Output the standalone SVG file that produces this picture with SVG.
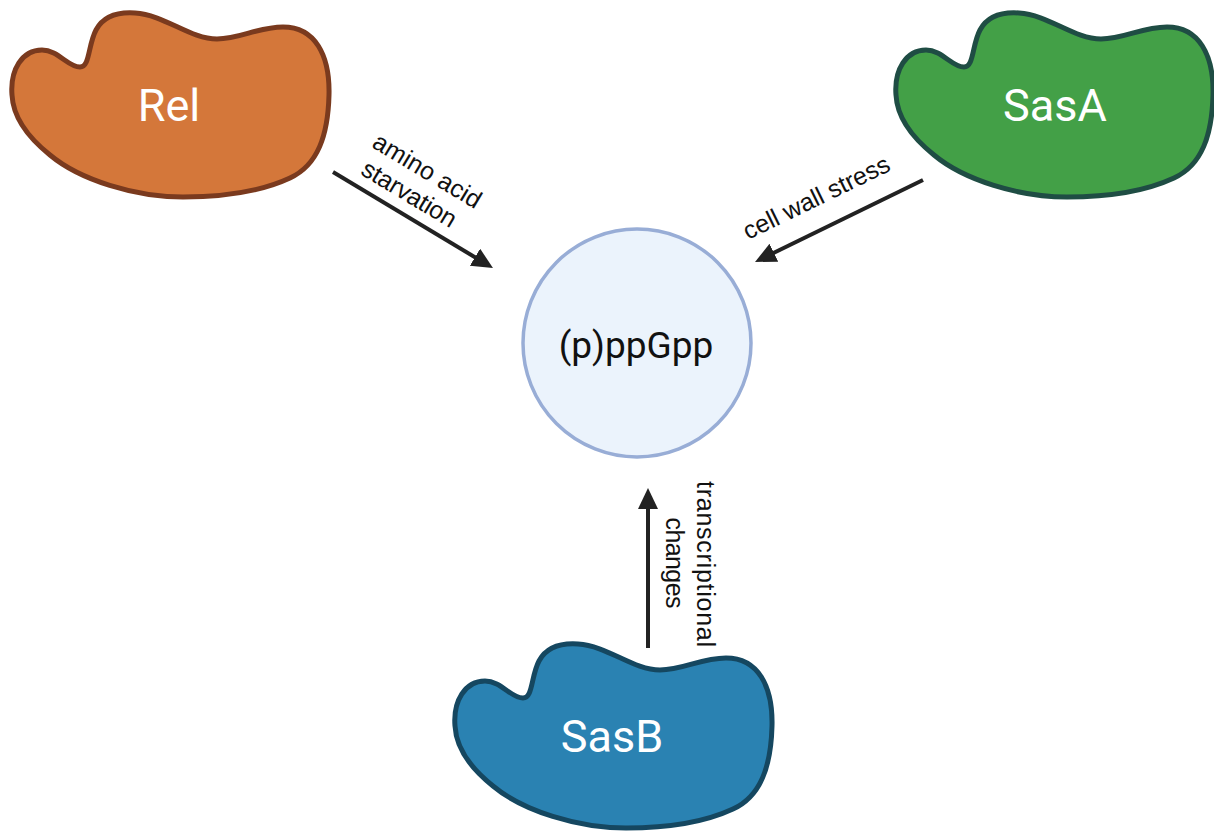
<svg xmlns="http://www.w3.org/2000/svg" xmlns:xlink="http://www.w3.org/1999/xlink" width="1214" height="831" viewBox="0 0 1214 831">
  <style>
    .blob { stroke-width: 5; stroke-linejoin: round; }
    .rel { fill: #D4773A; stroke: #7A3A1E; }
    .sasa { fill: #43A047; stroke: #1F4D44; }
    .sasb { fill: #2A82B2; stroke: #154760; }
    .enzyme { font-family: Roboto, "Liberation Sans", sans-serif; font-size: 45px; fill: #FFFFFF; text-anchor: middle; }
    .core { font-family: Roboto, "Liberation Sans", sans-serif; font-size: 37px; fill: #111111; text-anchor: middle; }
    .label { font-family: "Liberation Sans", Arial, sans-serif; font-size: 25px; fill: #111111; text-anchor: middle; }
    .conn { stroke: #222222; stroke-width: 4; fill: none; marker-end: url(#head); }
  </style>
  <defs>
    <marker id="head" markerUnits="userSpaceOnUse" markerWidth="22" markerHeight="22" refX="4" refY="10" orient="auto">
      <path d="M0,0 L21,10 L0,20 Z" fill="#222222"/>
    </marker>
    <!-- enzyme outline shared by all three synthetases -->
    <path id="blob" d="M 12,95 C 10,70 22,50 42,50 C 58,50 68,67 80,67 C 90,67 88,45 96,30 C 104,15 120,12 135,13 C 165,15 190,39 217,39 C 240,39 258,27 283,27 C 315,27 330,55 329,95 C 328,135 318,165 290,178 C 260,192 220,197 183,197 C 135,197 80,180 50,155 C 25,135 13,115 12,95 Z"/>
  </defs>

  <rect width="1214" height="831" fill="#FFFFFF"/>

  <g id="connectors">
    <line class="conn" x1="333" y1="172" x2="478.4" y2="259.3"/>
    <line class="conn" x1="923" y1="180" x2="770.3" y2="254.5"/>
    <line class="conn" x1="648" y1="648" x2="648" y2="505"/>
    <text class="label" transform="translate(423,178) rotate(31)" textLength="122">amino acid</text>
    <text class="label" transform="translate(405,201) rotate(31)" textLength="106">starvation</text>
    <text class="label" transform="translate(820,205) rotate(-26)" textLength="160">cell wall stress</text>
    <text class="label" transform="translate(697,564) rotate(90)" textLength="166">transcriptional</text>
    <text class="label" transform="translate(666,563) rotate(90)" textLength="91">changes</text>
  </g>

  <g id="rel">
    <use xlink:href="#blob" class="blob rel"/>
    <text class="enzyme" x="169" y="121">Rel</text>
  </g>

  <g id="sasa">
    <use xlink:href="#blob" class="blob sasa" transform="translate(884,0)"/>
    <text class="enzyme" x="1055" y="121">SasA</text>
  </g>

  <g id="sasb">
    <use xlink:href="#blob" class="blob sasb" transform="translate(443,631)"/>
    <text class="enzyme" x="612" y="752">SasB</text>
  </g>

  <g id="ppgpp">
    <circle cx="637" cy="343" r="114" fill="#EBF3FC" stroke="#98ADD6" stroke-width="3.5"/>
    <text class="core" x="636" y="358">(p)ppGpp</text>
  </g>
</svg>
